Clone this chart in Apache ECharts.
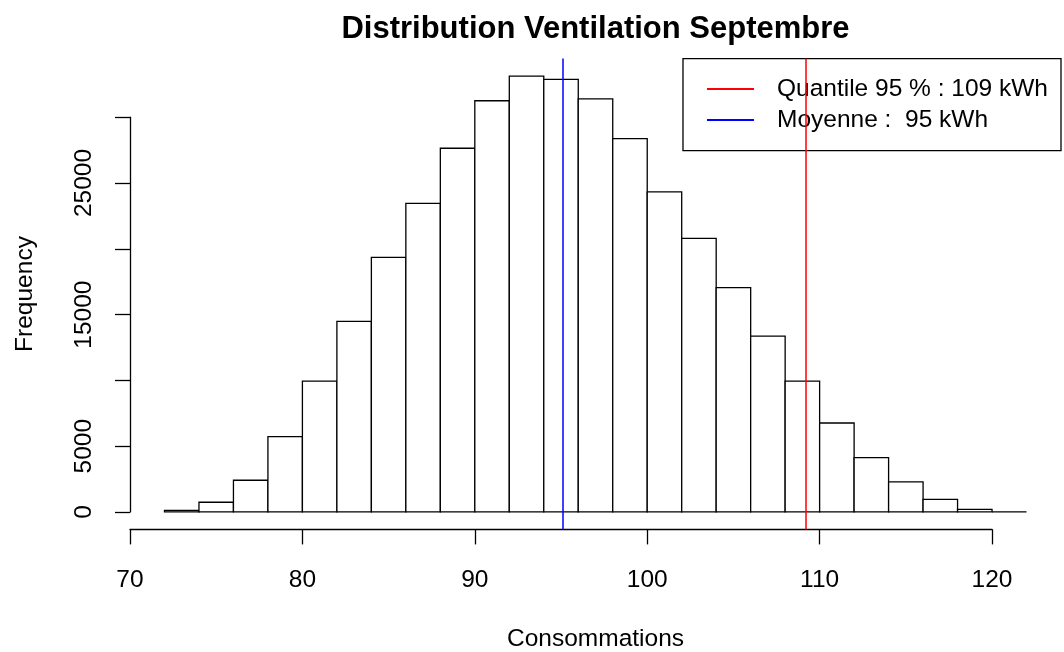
<!DOCTYPE html>
<html>
<head>
<meta charset="utf-8">
<script src="https://cdn.jsdelivr.net/npm/echarts@6/dist/echarts.min.js"></script>
<style>
    html, body { margin: 0; background: #fff; }
    #main { width: 1064px; height: 652px; }
</style>
</head>
<body>
<div id="main"></div>
<script>
// histogram data (bins of 2 kWh)
var binStarts = [72, 74, 76, 78, 80, 82, 84, 86, 88, 90, 92, 94, 96, 98, 100, 102, 104, 106, 108, 110, 112, 114, 116, 118, 120];
var binCounts = [120, 740, 2410, 5720, 9950, 14490, 19350, 23450, 27640, 31250, 33130, 32880, 31400, 28370, 24330, 20800, 17050, 13370, 9950, 6760, 4130, 2280, 950, 200, 0];
var binWidth = 2;

var meanValue = 95.1;
var quantile95 = 109.2;
var legendNames = ['Quantile 95 % : 109 kWh', 'Moyenne :  95 kWh'];

var yLabelsShown = [0, 5000, 15000, 25000];

var font = "'Liberation Sans', Arial, sans-serif";
var mChart = echarts.init(document.getElementById('main'));

// plot region, R style (4% padding on each side)
var plotLeft = 130, plotRight = 1061, plotTop = 58.6, plotBottom = 529.4;
var xMin = 70, xMax = 124;
var maxCount = Math.max.apply(null, binCounts);
var yMin = -0.04 * maxCount, yMax = 1.04 * maxCount;

function xpx(v) { return plotLeft + (v - xMin) / (xMax - xMin) * (plotRight - plotLeft); }
function ypx(v) { return plotBottom - (v - yMin) / (yMax - yMin) * (plotBottom - plotTop); }

var data = [];
for (var i = 0; i < binStarts.length; i++) {
    data.push([binStarts[i], binStarts[i] + binWidth, binCounts[i]]);
}

var axisText = {color: '#000', fontFamily: font, fontSize: 24.5};

var option = {
    animation: false,
    backgroundColor: '#fff',
    title: {
        text: 'Distribution Ventilation Septembre',
        left: (plotLeft + plotRight) / 2,
        textAlign: 'center',
        top: 14,
        padding: 0,
        textStyle: {color: '#000', fontFamily: font, fontSize: 31, fontWeight: 'bold'}
    },
    legend: {
        orient: 'vertical',
        right: 1064 - plotRight,
        top: plotTop,
        data: legendNames,
        selectedMode: false,
        backgroundColor: '#fff',
        borderColor: '#000',
        borderWidth: 1.3,
        padding: [18, 13, 18, 23],
        itemWidth: 47,
        itemHeight: 24,
        itemGap: 6,
        itemStyle: {opacity: 0},
        textStyle: {color: '#000', fontFamily: font, fontSize: 24.5, padding: [3, 0, 0, 18]}
    },
    grid: [
        {left: plotLeft, top: plotTop, width: plotRight - plotLeft, height: plotBottom - plotTop, outerBoundsMode: 'none'},
        {left: plotLeft, top: plotTop, width: xpx(120) - plotLeft, height: plotBottom - plotTop, outerBoundsMode: 'none'},
        {left: plotLeft, top: ypx(30000), width: 10, height: ypx(0) - ypx(30000), outerBoundsMode: 'none'}
    ],
    xAxis: [
        {
            gridIndex: 0, type: 'value', min: xMin, max: xMax,
            name: 'Consommations', nameLocation: 'middle', nameGap: 97,
            nameTextStyle: axisText,
            axisLine: {show: false}, axisTick: {show: false}, axisLabel: {show: false}, splitLine: {show: false}
        },
        {
            gridIndex: 1, type: 'value', min: 70, max: 120, interval: 10,
            axisLine: {lineStyle: {color: '#000', width: 1.3}},
            axisTick: {length: 15, lineStyle: {color: '#000', width: 1.3}},
            axisLabel: {margin: 38, color: '#000', fontFamily: font, fontSize: 24.5},
            splitLine: {show: false}
        },
        {gridIndex: 2, type: 'value', show: false}
    ],
    yAxis: [
        {
            gridIndex: 0, type: 'value', min: yMin, max: yMax,
            name: 'Frequency', nameLocation: 'middle', nameGap: 92,
            nameTextStyle: axisText,
            axisLine: {show: false}, axisTick: {show: false}, axisLabel: {show: false}, splitLine: {show: false}
        },
        {gridIndex: 1, type: 'value', show: false},
        {
            gridIndex: 2, type: 'value', min: 0, max: 30000, interval: 5000,
            axisLine: {show: true, lineStyle: {color: '#000', width: 1.3}},
            axisTick: {show: true, length: 15, lineStyle: {color: '#000', width: 1.3}},
            axisLabel: {
                rotate: 90, margin: 33, color: '#000', fontFamily: font, fontSize: 24.5,
                formatter: function (v) {
                    return yLabelsShown.indexOf(v) >= 0 ? String(v) : '';
                }
            },
            splitLine: {show: false}
        }
    ],
    series: [
        {
            name: 'hist',
            type: 'custom',
            xAxisIndex: 0,
            yAxisIndex: 0,
            encode: {x: [0, 1], y: 2},
            data: data,
            renderItem: function (params, api) {
                var p0 = api.coord([api.value(0), 0]);
                var p1 = api.coord([api.value(1), api.value(2)]);
                return {
                    type: 'rect',
                    shape: {x: p0[0], y: p1[1], width: p1[0] - p0[0], height: p0[1] - p1[1]},
                    style: {fill: '#fff', stroke: '#000', lineWidth: 1.3}
                };
            }
        },
        {
            name: legendNames[0],
            type: 'line',
            xAxisIndex: 0,
            yAxisIndex: 0,
            symbol: 'none',
            data: [],
            lineStyle: {color: '#ff0000', width: 2.6},
            itemStyle: {color: '#ff0000'},
            markLine: {
                silent: true,
                symbol: 'none',
                label: {show: false},
                lineStyle: {color: '#ff0000', width: 1.5, type: 'solid'},
                data: [{xAxis: quantile95}]
            }
        },
        {
            name: legendNames[1],
            type: 'line',
            xAxisIndex: 0,
            yAxisIndex: 0,
            symbol: 'none',
            data: [],
            lineStyle: {color: '#0000ff', width: 2.6},
            itemStyle: {color: '#0000ff'},
            markLine: {
                silent: true,
                symbol: 'none',
                label: {show: false},
                lineStyle: {color: '#0000ff', width: 1.5, type: 'solid'},
                data: [{xAxis: meanValue}]
            }
        }
    ]
};
mChart.setOption(option);
</script>
</body>
</html>
